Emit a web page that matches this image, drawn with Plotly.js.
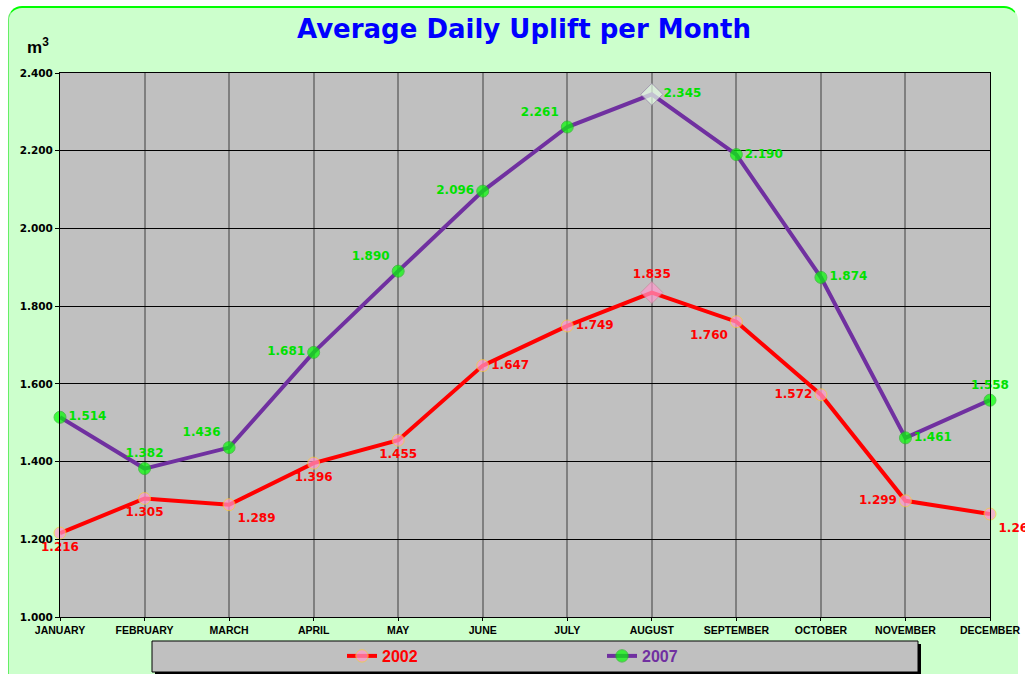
<!DOCTYPE html>
<html>
<head>
<meta charset="utf-8">
<script src="https://cdn.plot.ly/plotly-3.0.1.min.js"></script>
<style>
  html, body { margin:0; padding:0; background:#ffffff; }
  #panel { position:absolute; left:8px; top:6px; width:1010px; height:680px;
           background:#CCFFCC; border-top:2px solid #00FF00; border-left:1px solid #66EE66;
           border-right:1px solid #CCFFCC; border-radius:14px 14px 0 0; box-sizing:border-box; }
  #chart { position:absolute; left:0; top:0; width:1025px; height:674px; }
</style>
</head>
<body>
<div id="panel"></div>
<div id="chart"></div>
<script>
// ---- data ----
const months = ["JANUARY","FEBRUARY","MARCH","APRIL","MAY","JUNE","JULY","AUGUST","SEPTEMBER","OCTOBER","NOVEMBER","DECEMBER"];
const values2002 = [1.216, 1.305, 1.289, 1.396, 1.455, 1.647, 1.749, 1.835, 1.760, 1.572, 1.299, 1.265];
const values2007 = [1.514, 1.382, 1.436, 1.681, 1.890, 2.096, 2.261, 2.345, 2.190, 1.874, 1.461, 1.558];
const yTicks = [1.0, 1.2, 1.4, 1.6, 1.8, 2.0, 2.2, 2.4];

// ---- styling helpers ----
const idx = months.map((m, i) => i);
const fmt = v => v.toFixed(3);
const maxIdx = arr => arr.indexOf(Math.max(...arr));

const pos2002 = ["bottom center","bottom center","bottom right","bottom center","bottom center","middle right",
                 "middle right","top center","bottom left","middle left","middle left","bottom right"];
const pos2007 = ["middle right","top center","top left","middle left","top left","middle left",
                 "top left","middle right","middle right","middle right","middle right","top center"];

const m2002 = maxIdx(values2002), m2007 = maxIdx(values2007);
const labelFont = 'DejaVu Sans, Verdana, sans-serif';

const trace2002 = {
  x: idx, y: values2002, name: '<b><span style="color:#FF0000">2002</span></b>',
  mode: 'lines+markers+text', type: 'scatter', cliponaxis: false,
  text: values2002.map(fmt), textposition: pos2002,
  textfont: {family: labelFont, size: 12, color: '#FF0000', weight: 'bold'},
  line: {color: '#FF0000', width: 4},
  marker: {
    symbol: idx.map(i => i === m2002 ? 'diamond' : 'circle'),
    size: idx.map(i => i === m2002 ? 17 : 12),
    color: '#FF99CC',
    line: {color: idx.map(i => i === m2002 ? '#CC8899' : '#FFCC33'), width: 1}
  }
};
const trace2007 = {
  x: idx, y: values2007, name: '<b><span style="color:#7030A0">2007</span></b>',
  mode: 'lines+markers+text', type: 'scatter', cliponaxis: false,
  text: values2007.map(fmt), textposition: pos2007,
  textfont: {family: labelFont, size: 12, color: '#00E000', weight: 'bold'},
  line: {color: '#7030A0', width: 4},
  marker: {
    symbol: idx.map(i => i === m2007 ? 'diamond' : 'circle'),
    size: idx.map(i => i === m2007 ? 17 : 12),
    color: idx.map(i => i === m2007 ? '#E6FFE6' : '#00FF00'),
    line: {color: idx.map(i => i === m2007 ? '#9988AA' : '#22BB22'), width: 1}
  }
};

const W = 1025, H = 674;
const L = 60, R = 990, T = 73, B = 617;
const px2x = p => (p - L) / (R - L);
const py2y = p => (B - p) / (B - T);

const layout = {
  width: W, height: H,
  margin: {l: L, r: W - R, t: T, b: H - B, pad: 0, autoexpand: false},
  paper_bgcolor: 'rgba(0,0,0,0)',
  plot_bgcolor: '#C0C0C0',
  font: {family: 'Liberation Sans, Arial, sans-serif', color: '#000000'},
  title: {
    text: '<b>Average Daily Uplift per Month</b>',
    font: {family: 'DejaVu Sans, Verdana, sans-serif', size: 26, color: '#0000FF'},
    x: 524 / W, xref: 'container', xanchor: 'center',
    y: 1 - 29 / H, yref: 'container', yanchor: 'middle'
  },
  xaxis: {
    range: [0, 11], tickvals: idx, ticktext: months,
    tickfont: {size: 10.5, family: 'Liberation Sans, Arial, sans-serif', weight: 'bold', color: '#000'},
    showgrid: true, gridcolor: '#7F7F7F', gridwidth: 2,
    showline: true, linecolor: '#000', linewidth: 1, mirror: true,
    ticks: 'outside', ticklen: 3, tickcolor: '#000', zeroline: false, fixedrange: true
  },
  yaxis: {
    range: [1.0, 2.4], tickvals: yTicks, tickformat: '.3f',
    tickfont: {size: 10.5, family: 'DejaVu Sans, Verdana, sans-serif', weight: 'bold', color: '#000'},
    showgrid: true, gridcolor: '#000000', gridwidth: 1,
    showline: true, linecolor: '#000', linewidth: 1, mirror: true,
    ticks: 'outside', ticklen: 4, tickcolor: '#000', zeroline: false, fixedrange: true
  },
  showlegend: true,
  legend: {
    orientation: 'h', xref: 'container', yref: 'container',
    x: 342 / W, xanchor: 'left', y: 1 - 656 / H, yanchor: 'middle',
    bgcolor: 'rgba(0,0,0,0)', borderwidth: 0,
    font: {size: 16, family: 'Liberation Sans, Arial, sans-serif'},
    entrywidth: 215, entrywidthmode: 'pixels', itemwidth: 30
  },
  annotations: [{
    text: '<b>m<sup>3</sup></b>', xref: 'paper', yref: 'paper', x: px2x(38), y: py2y(46),
    xanchor: 'center', yanchor: 'middle', showarrow: false,
    font: {size: 17, family: 'Liberation Sans, Arial, sans-serif', color: '#000'}
  }],
  shapes: [
    {type: 'rect', xref: 'paper', yref: 'paper', x0: px2x(155), x1: px2x(921), y0: py2y(644), y1: py2y(675),
     fillcolor: '#000000', line: {width: 0}},
    {type: 'rect', xref: 'paper', yref: 'paper', x0: px2x(152), x1: px2x(918), y0: py2y(641), y1: py2y(672),
     fillcolor: '#C0C0C0', line: {color: '#000000', width: 1}}
  ]
};

Plotly.newPlot('chart', [trace2002, trace2007], layout, {displayModeBar: false, staticPlot: true});
</script>
</body>
</html>
